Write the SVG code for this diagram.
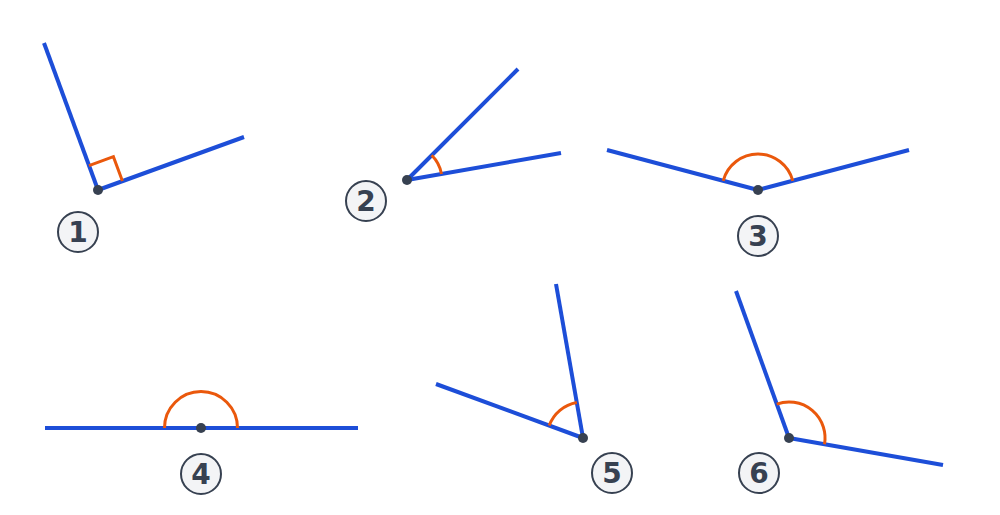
<svg xmlns="http://www.w3.org/2000/svg" width="1000" height="515" viewBox="0 0 1000 515">
<style>
.ray{stroke:#1d4ed8;stroke-width:4;fill:none;stroke-linecap:butt}
.arc{stroke:#ea580c;stroke-width:3;fill:none}
.dot{fill:#374151}
.badge circle{fill:#f3f4f6;stroke:#374151;stroke-width:2}
.badge text{font-family:"DejaVu Sans",sans-serif;font-weight:bold;font-size:28px;fill:#374151;text-anchor:middle;dominant-baseline:central}
</style>
<rect width="1000" height="515" fill="#ffffff"/>
<g id="angle1">
<line class="ray" x1="98" y1="190" x2="44" y2="43"/>
<line class="ray" x1="98" y1="190" x2="244" y2="137"/>
<polyline class="arc" points="89,165.6 113.4,156.7 122.4,181.1"/>
<circle class="dot" cx="98" cy="190" r="5"/>
<g class="badge"><circle cx="78" cy="232" r="20"/><text x="78" y="232">1</text></g>
</g>
<g id="angle2">
<line class="ray" x1="407" y1="180" x2="518" y2="69"/>
<line class="ray" x1="407" y1="180" x2="561" y2="153"/>
<path class="arc" d="M431.7 155.3 A35 35 0 0 1 441.5 174"/>
<circle class="dot" cx="407" cy="180" r="5"/>
<g class="badge"><circle cx="366" cy="201" r="20"/><text x="366" y="201">2</text></g>
</g>
<g id="angle3">
<line class="ray" x1="758" y1="190" x2="607" y2="150"/>
<line class="ray" x1="758" y1="190" x2="909" y2="150"/>
<path class="arc" d="M723.2 180.8 A36 36 0 0 1 792.8 180.8"/>
<circle class="dot" cx="758" cy="190" r="5"/>
<g class="badge"><circle cx="758" cy="236" r="20"/><text x="758" y="236">3</text></g>
</g>
<g id="angle4">
<line class="ray" x1="45" y1="428" x2="358" y2="428"/>
<path class="arc" d="M164.5 428 A36.5 36.5 0 0 1 237.5 428"/>
<circle class="dot" cx="201" cy="428" r="5"/>
<g class="badge"><circle cx="201" cy="474" r="20"/><text x="201" y="474">4</text></g>
</g>
<g id="angle5">
<line class="ray" x1="583" y1="438" x2="556" y2="284"/>
<line class="ray" x1="583" y1="438" x2="436" y2="384"/>
<path class="arc" d="M576.8 402.5 A36 36 0 0 0 549.2 425.6"/>
<circle class="dot" cx="583" cy="438" r="5"/>
<g class="badge"><circle cx="612" cy="473" r="20"/><text x="612" y="473">5</text></g>
</g>
<g id="angle6">
<line class="ray" x1="789" y1="438" x2="736" y2="291"/>
<line class="ray" x1="789" y1="438" x2="943" y2="465"/>
<path class="arc" d="M776.8 404.1 A36 36 0 0 1 824.5 444.2"/>
<circle class="dot" cx="789" cy="438" r="5"/>
<g class="badge"><circle cx="759" cy="473" r="20"/><text x="759" y="473">6</text></g>
</g>
<g id="connectors"></g>
</svg>
